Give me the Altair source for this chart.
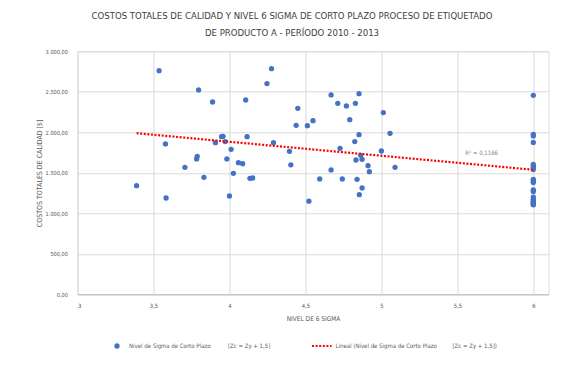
import altair as alt
import pandas as pd

# ---- data ----
sigma = [3.537, 3.797, 3.889, 4.277, 4.247, 4.107, 4.450, 4.439, 4.513, 3.579,
         3.389, 3.583, 3.707, 3.784, 3.788, 3.832, 3.908, 3.948, 3.958, 3.972,
         3.983, 4.011, 4.000, 4.026, 4.059, 4.087, 4.116, 4.135, 4.153, 4.290,
         4.395, 4.404, 4.523, 4.550, 4.594, 4.669, 4.669, 4.713, 4.728, 4.743,
         4.770, 4.792, 4.825, 4.829, 4.833, 4.840, 4.853, 4.853, 4.855, 4.864,
         4.873, 4.873, 4.912, 4.921, 5.000, 5.013, 5.057, 5.090,
         6, 6, 6, 6, 6, 6, 6, 6, 6, 6, 6, 6, 6, 6, 6, 6, 6, 6, 6, 6]
costos = [2761, 2523, 2374, 2786, 2601, 2399, 2296, 2086, 2082, 1856,
          1341, 1189, 1568, 1671, 1704, 1444, 1872, 1946, 1950, 1885,
          1671, 1790, 1214, 1494, 1625, 1613, 1946, 1432, 1436, 1872,
          1765, 1598, 1150, 2144, 1424, 2461, 1535, 2358, 1802, 1424,
          2325, 2156, 1885, 2358, 1658, 1420, 2477, 1971, 1230, 1716,
          1667, 1313, 1588, 1514, 1769, 2243, 1988, 1568,
          2457, 1975, 1955, 1875, 1605, 1585, 1565, 1540, 1420, 1400,
          1380, 1290, 1270, 1200, 1170, 1150, 1135, 1120, 1110, 1105]

x_ticks = [3, 3.5, 4, 4.5, 5, 5.5, 6]
y_ticks = [0, 500, 1000, 1500, 2000, 2500, 3000]

title_line1 = "COSTOS TOTALES DE CALIDAD Y NIVEL 6 SIGMA DE CORTO PLAZO PROCESO DE ETIQUETADO"
title_line2 = "DE PRODUCTO A - PERÍODO 2010 - 2013"
x_title = "NIVEL DE 6 SIGMA"
y_title = "COSTOS TOTALES DE CALIDAD [$]"
r2_text = ["R² = 0,1166"]
r2_pos_x = [5.66]
r2_pos_y = [1741]
legend_series = "Nivel de Sigma de Corto Plazo"
legend_series_b = "[Zc = Zy + 1,5]"
legend_trend = "Lineal (Nivel de Sigma de Corto Plazo"
legend_trend_b = "[Zc = Zy + 1,5])"

df = pd.DataFrame({"x": sigma, "y": costos})
r2_df = pd.DataFrame({"x": r2_pos_x, "y": r2_pos_y, "t": r2_text})

FONT = "DejaVu Sans Condensed, sans-serif"
GRAY = "#595959"
GRID = "#d9d9d9"
BLUE = "#4472C4"
RED = "#FF0000"

W, H = 471, 243

xscale = alt.Scale(domain=[3, 6.1], nice=False, zero=False)
yscale = alt.Scale(domain=[0, 3000], nice=False)

xaxis = alt.Axis(values=x_ticks, title=x_title, grid=True, gridColor=GRID,
                 domainColor="#bfbfbf", ticks=False, labelPadding=8,
                 labelExpr="replace(toString(datum.value), '.', ',')",
                 labelFont=FONT, labelFontSize=5.8, labelColor=GRAY,
                 titleFont=FONT, titleFontSize=6.5, titleFontWeight="normal",
                 titleColor=GRAY, titlePadding=7)
yaxis = alt.Axis(values=y_ticks, title=y_title, grid=True, gridColor=GRID,
                 domain=False, ticks=False, labelPadding=10,
                 labelExpr="replace(replace(replace(format(datum.value, ',.2f'), ',', 'X'), '.', ','), 'X', '.')",
                 labelFont=FONT, labelFontSize=5.6, labelColor=GRAY,
                 titleFont=FONT, titleFontSize=7, titleFontWeight="normal",
                 titleColor=GRAY, titlePadding=3)

base = alt.Chart(df)

points = base.mark_circle(size=28, color=BLUE, opacity=1).encode(
    x=alt.X("x:Q", scale=xscale, axis=xaxis),
    y=alt.Y("y:Q", scale=yscale, axis=yaxis),
)

trend = base.transform_regression("x", "y").mark_line(
    color=RED, strokeWidth=2.2, strokeDash=[2, 1.6]
).encode(x=alt.X("x:Q", scale=xscale), y=alt.Y("y:Q", scale=yscale))

r2 = alt.Chart(r2_df).mark_text(font=FONT, fontSize=6, color="#7f7f7f").encode(
    x=alt.X("x:Q", scale=xscale), y=alt.Y("y:Q", scale=yscale), text="t:N"
)

# title (centred on the whole chart, not on the plot)
ttl = dict(font=FONT, fontSize=9.5, fontWeight="normal", color="#404040",
           baseline="middle", align="center")
title1 = alt.Chart(pd.DataFrame({"t": [title_line1]})).mark_text(**ttl).encode(
    x=alt.value(214.5), y=alt.value(-35.3), text="t:N")
title2 = alt.Chart(pd.DataFrame({"t": [title_line2]})).mark_text(**ttl).encode(
    x=alt.value(214.5), y=alt.value(-18.3), text="t:N")

# manual legend under the chart
leg_text = dict(font=FONT, fontSize=6, color=GRAY, align="left", baseline="middle")
leg_y = 294.7
legend_dot = alt.Chart(pd.DataFrame({"a": [0]})).mark_circle(size=28, color=BLUE, opacity=1).encode(
    x=alt.value(39.5), y=alt.value(leg_y))
legend_t1 = alt.Chart(pd.DataFrame({"t": [legend_series]})).mark_text(**leg_text).encode(
    x=alt.value(51.5), y=alt.value(leg_y), text="t:N")
legend_t2 = alt.Chart(pd.DataFrame({"t": [legend_series_b]})).mark_text(**leg_text).encode(
    x=alt.value(150.5), y=alt.value(leg_y), text="t:N")
legend_line = alt.Chart(pd.DataFrame({"a": [0]})).mark_rule(
    color=RED, strokeWidth=2.2, strokeDash=[2, 1.6]).encode(
    x=alt.value(234.5), x2=alt.value(254), y=alt.value(leg_y))
legend_t3 = alt.Chart(pd.DataFrame({"t": [legend_trend]})).mark_text(**leg_text).encode(
    x=alt.value(258), y=alt.value(leg_y), text="t:N")
legend_t4 = alt.Chart(pd.DataFrame({"t": [legend_trend_b]})).mark_text(**leg_text).encode(
    x=alt.value(375), y=alt.value(leg_y), text="t:N")

chart = alt.layer(
    points, trend, r2, title1, title2,
    legend_dot, legend_t1, legend_t2, legend_line, legend_t3, legend_t4
).properties(
    width=W, height=H,
    autosize=alt.AutoSizeParams(type="none"),
    padding={"left": 69.5, "top": 43.3, "right": 27.5, "bottom": 62.7},
).configure_view(stroke=None).configure(background="white")

chart.save("out.html", embed_options={"renderer": "svg", "actions": False})
